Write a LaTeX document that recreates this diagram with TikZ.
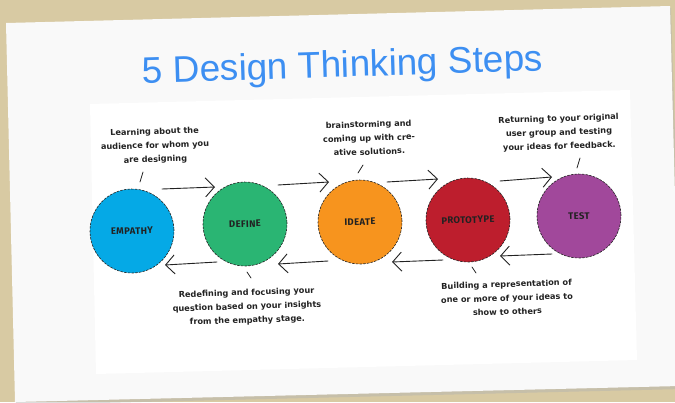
\documentclass[tikz,border=0pt]{standalone}
\usepackage{fontspec}
\setmainfont{Liberation Sans}
\newfontfamily\notefont{DejaVu Sans}
\newfontfamily\labelfont{Fira Sans}
\usetikzlibrary{arrows.meta,calc}
\definecolor{bgbeige}{HTML}{D8CAA3}
\definecolor{paperc}{HTML}{F9F9F9}
\definecolor{titleblue}{HTML}{3D8FF2}
\definecolor{cblue}{HTML}{05A9E6}
\definecolor{cgreen}{HTML}{2AB573}
\definecolor{corange}{HTML}{F7941E}
\definecolor{cred}{HTML}{BD1E2D}
\definecolor{cpurple}{HTML}{A1489B}
\definecolor{ink}{HTML}{222222}
\tikzset{
  stage/.style={circle, minimum size=84pt, inner sep=0pt, draw=ink, line width=0.6pt,
    dash pattern=on 2.5pt off 1.2pt, text=ink, rotate=1.8,
    font={\labelfont\bfseries\fontsize{9.5}{11}\selectfont\addfontfeatures{LetterSpace=4}}},
  note/.style={align=center, text=ink, rotate=1.8, inner sep=0pt,
    font={\notefont\bfseries\fontsize{8.2}{13.8}\selectfont}},
  flow/.style={draw=ink, line width=0.9pt, line cap=round,
    -{Straight Barb[length=9pt,width=19pt,line width=0.9pt]}},
  tick/.style={draw=ink, line width=0.8pt, line cap=round}
}
\begin{document}
\begin{tikzpicture}[x=1pt,y=-1pt]
\useasboundingbox (0,0) rectangle (675,402);
\fill[bgbeige] (0,0) rectangle (675,402);
% paper with soft shadow
\fill[black!30, opacity=0.45] (7,25) -- (671,8) -- (683,389) -- (16,405) -- cycle;
\fill[paperc] (6,23) -- (670,6) -- (680,386) -- (15,402) -- cycle;
\fill[white] (90,104) -- (630,90) -- (637,360) -- (96,374) -- cycle;
% title
\node[anchor=base, rotate=1.8, text=titleblue, font=\fontsize{37}{40}\selectfont, inner sep=0pt]
  (title) at (343,77) {5 Design Thinking Steps};
% stages
\node[stage, fill=cblue]   (e) at (132,231) {EMPATHY};
\node[stage, fill=cgreen]  (d) at (245,224) {DEFINE};
\node[stage, fill=corange] (i) at (360,222) {IDEATE};
\node[stage, fill=cred]    (p) at (468,220) {PROTOTYPE};
\node[stage, fill=cpurple] (t) at (579,216) {TEST};
% forward arrows (top)
\draw[flow] ([shift={(30,-42)}]e.center) -- ([shift={(-30,-37)}]d.center);
\draw[flow] ([shift={(33,-39)}]d.center) -- ([shift={(-31,-40)}]i.center);
\draw[flow] ([shift={(27,-40)}]i.center) -- ([shift={(-30,-41)}]p.center);
\draw[flow] ([shift={(32,-39)}]p.center) -- ([shift={(-27,-39)}]t.center);
% backward arrows (bottom)
\draw[flow] ([shift={(-27,38)}]t.center) -- ([shift={(32,36)}]p.center);
\draw[flow] ([shift={(-25,40)}]p.center) -- ([shift={(32,40)}]i.center);
\draw[flow] ([shift={(-32,39)}]i.center) -- ([shift={(33,40)}]d.center);
\draw[flow] ([shift={(-28,38)}]d.center) -- ([shift={(33,34)}]e.center);
% notes
\node[note] (ne) at (155,146) {Learning about the\\audience for whom you\\are designing};
\node[note] (ni) at (369,138) {brainstorming and\\coming up with cre-\\ative solutions.};
\node[note] (nt) at (559,133) {Returning to your original\\user group and testing\\your ideas for feedback.};
\node[note] (nd) at (247,307) {Redefining and focusing your\\question based on your insights\\from the empathy stage.};
\node[note] (np) at (507,298) {Building a representation of\\one or more of your ideas to\\show to others};
% ticks linking notes to stages
\draw[tick] ([shift={(11,-59)}]e.center) -- ([shift={(8,-49)}]e.center);
\draw[tick] ([shift={(3,-57)}]i.center) -- ([shift={(-2,-49)}]i.center);
\draw[tick] ([shift={(1,-58)}]t.center) -- ([shift={(-2,-48)}]t.center);
\draw[tick] ([shift={(2,48)}]d.center) -- ([shift={(6,54)}]d.center);
\draw[tick] ([shift={(4,47)}]p.center) -- ([shift={(8,53)}]p.center);
\end{tikzpicture}
\end{document}
